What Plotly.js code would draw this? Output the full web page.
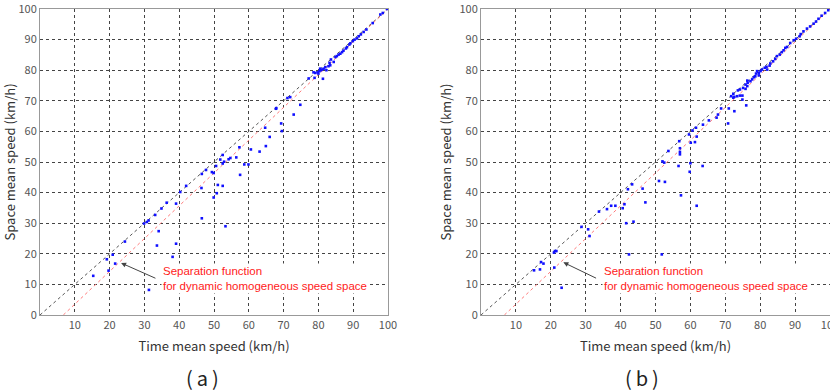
<!DOCTYPE html>
<html>
<head>
<meta charset="utf-8">
<script src="https://cdn.plot.ly/plotly-3.0.1.min.js"></script>
<style>html,body{margin:0;padding:0;background:#fff;}#chart{width:830px;height:392px;}</style>
</head>
<body>
<div id="chart"></div>
<script>
// ---- data ----
const tickVals = [10, 20, 30, 40, 50, 60, 70, 80, 90, 100];
const yTickVals = [0, 10, 20, 30, 40, 50, 60, 70, 80, 90, 100];
const diagX = [0, 100];
const diagY = [0, 100];
const sepX = [6.7, 100];
const sepY = [0, 100];

const aTime = [99.7,98.5,97.8,95.6,93.8,93,92.2,91.6,91.1,90.4,89.9,89.2,88.9,88.2,87.9,87.2,86.8,86.3,85.8,85.3,
  84.9,83.6,83.2,84.4,83.4,82.9,82,81.5,81,80.5,80.3,79.8,79.1,78.6,80,80.7,82.3,81.3,78.9,77.2,
  71.9,71.1,67.9,67.8,74.8,72.9,69.3,69.5,64.7,66,64.9,63.1,60.6,59.9,58.7,57.3,57.5,56.4,54.7,54.2,
  52.9,52.5,52.5,51.8,50.6,49.4,49.9,46.5,46.4,47.7,51.1,52.5,49.9,50.8,
  40.3,42,39.1,36.4,34.9,33.1,31.2,30.7,29.9,34.1,33.6,39.1,38.1,31.3,24.4,21.6,20.9,19.2,19.7,15.3,46.5,53.3];
const aSpace = [100,98.7,98.2,95.4,93.3,92.5,91.7,91.1,90.4,90,89.5,88.8,88.4,87.5,87.1,86.4,85.9,85.4,85.1,84.6,
  84.3,83.5,82.4,82.7,81.6,81.3,81,80.5,80.2,80.5,79.7,79.3,79.1,79.3,78.9,80,80,77.2,77.5,77.3,
  71.2,70.9,67.6,67.4,68.7,65.5,62.6,60.1,61.2,58.2,55.2,53.4,54.1,49.2,49.2,54.8,45.8,51.5,51.3,50.9,
  50.1,52.3,49.5,50.8,48.7,46.7,46.4,46.1,41.5,47.4,42.5,42.2,38.4,39.8,
  40.2,42.2,36.4,36.7,34.8,32.7,30.9,30.4,29.9,27.4,22.7,23.3,19,8.2,24,16.8,19.7,18.2,14.5,12.8,31.6,29];

const bTime = [99.5,98.6,97.6,96.7,96,95.3,94.3,93.4,92.4,91.6,91.3,90.3,89.6,88.6,87.7,87.2,86.7,86.2,85.6,84.8,
  84.3,83.7,82.9,82.7,81.8,81.3,82,80.5,80.1,79.6,79.1,78.8,79.6,78.6,78.2,77.7,77.2,76.3,76.4,75.8,
  76.3,75.1,74.2,73.6,75.8,72.3,71.7,72.6,73.4,74.2,74.9,72.3,74.9,76,72.6,70.8,71,68.8,67.9,67.5,
  65.3,63.6,61.6,60.6,59.6,61.8,61.3,60.1,56.8,57,57,57,53.7,52.5,52,56.6,60,59.8,63.5,51,
  52.7,57.3,46.3,43.3,42.1,
  41.1,40.6,38.5,37.3,36.1,33.8,47.1,61.8,41.6,43.7,30.7,31.1,28.8,21.2,21.6,20.9,42.4,51.8,21,17.9,
  17.2,16.9,15.2,23.1];
const bSpace = [99.6,98.7,97.8,96.8,95.9,95.2,94.3,93.6,92.7,91.8,91.1,90.3,89.8,88.9,87.6,87.3,86.5,85.9,85.1,84.6,
  83.7,82.9,82.2,81.5,81.1,80.8,80.2,80.2,79.7,79.1,79.7,78.9,78.3,78,77.7,77,76.4,76.6,75.9,75.3,
  74.8,74.2,73.7,73.4,73.9,72.3,71.5,71.3,71.5,71.7,71.7,71,70.4,68.5,66.6,62.6,67.5,67.5,65.5,64.5,
  63.6,62.2,61.2,60.3,59,58.3,56.5,56.3,56.8,54.5,53.3,52.5,53.6,49.8,50.2,48.7,49.6,46.8,48.7,43.8,
  43.5,39.1,41.3,42.7,41.1,
  36.2,34.9,35.7,35.7,34.6,33.8,36.8,35.7,30,30.5,28,25.8,28.8,20.9,20.9,20.4,19.8,19.8,15.5,16.8,
  17.3,14.9,14.6,8.9];

const annText = "Separation function<br>for dynamic homogeneous speed space";
const xTitle = "Time mean speed (km/h)";
const yTitle = "Space mean speed (km/h)";
const panelLabels = ["(\u2009a\u2009)", "(\u2009b\u2009)"];

// ---- styles ----
const FONT = "'Noto Sans CJK KR', 'Noto Sans', sans-serif";
const ANNFONT = "'Liberation Sans', Arial, sans-serif";
const diagLine = {color: '#555', width: 1, dash: 'dot'};
const sepLine = {color: '#ff7a7a', width: 1, dash: 'dot'};
const mk = {symbol: 'square', size: 2.6, color: '#1010ff', line: {width: 0}};

function lineTrace(x, y, line, xa, ya) {
  return {x: x, y: y, mode: 'lines', line: line, xaxis: xa, yaxis: ya, hoverinfo: 'skip', showlegend: false};
}
function ptTrace(x, y, xa, ya) {
  return {x: x, y: y, mode: 'markers', marker: mk, xaxis: xa, yaxis: ya, showlegend: false};
}

const data = [
  lineTrace(diagX, diagY, diagLine, 'x', 'y'),
  lineTrace(sepX, sepY, sepLine, 'x', 'y'),
  ptTrace(aTime, aSpace, 'x', 'y'),
  lineTrace(diagX, diagY, diagLine, 'x2', 'y2'),
  lineTrace(sepX, sepY, sepLine, 'x2', 'y2'),
  ptTrace(bTime, bSpace, 'x2', 'y2')
];

function xax(domain, anchor) {
  return {
    domain: domain, anchor: anchor, range: [0, 100], tickvals: tickVals,
    showgrid: true, gridcolor: '#444', griddash: 'dot', gridwidth: 1,
    showline: true, linecolor: '#999', linewidth: 1, mirror: true, zeroline: false,
    ticks: '', ticklabeloverflow: 'allow', tickfont: {family: FONT, size: 11, color: '#555'},
    title: {text: xTitle, font: {family: FONT, size: 13, color: '#333'}, standoff: 10},
    automargin: false, fixedrange: true
  };
}
function yax(anchor) {
  return {
    domain: [0, 1], anchor: anchor, range: [0, 100], tickvals: yTickVals,
    showgrid: true, gridcolor: '#444', griddash: 'dot', gridwidth: 1,
    showline: true, linecolor: '#999', linewidth: 1, mirror: true, zeroline: false,
    ticks: '', ticklabeloverflow: 'allow', tickfont: {family: FONT, size: 11, color: '#555'},
    title: {text: yTitle, font: {family: FONT, size: 13, color: '#333'}, standoff: 4},
    automargin: false, fixedrange: true
  };
}

function arrowAnn(xref, yref, hx, hy, tx, ty) {
  return {xref: xref, yref: yref, axref: xref, ayref: yref, x: hx, y: hy, ax: tx, ay: ty,
    text: '', showarrow: true, arrowhead: 2, arrowsize: 1, arrowwidth: 1, arrowcolor: '#444'};
}
function textAnn(xref, yref, x, y) {
  return {xref: xref, yref: yref, x: x, y: y, text: annText, showarrow: false,
    xanchor: 'left', yanchor: 'middle', align: 'left', bgcolor: '#fff', borderpad: 1,
    font: {family: ANNFONT, size: 11.5, color: '#ff1a1a'}};
}
function panelAnn(xPix, label) {
  return {xref: 'paper', yref: 'paper', x: xPix / 830, y: (315 - 377) / 306, yanchor: 'middle', xanchor: 'center',
    text: label, showarrow: false, borderpad: 0, font: {family: FONT, size: 20, color: '#222'}};
}

const layout = {
  width: 830, height: 392,
  margin: {l: 0, r: 0, t: 9, b: 77},
  paper_bgcolor: '#fff', plot_bgcolor: '#fff',
  font: {family: FONT},
  xaxis: xax([40 / 830, 388 / 830], 'y'),
  yaxis: yax('x'),
  xaxis2: xax([481 / 830, 1], 'y2'),
  yaxis2: yax('x2'),
  annotations: [
    textAnn('x', 'y', 34.8, 11.8),
    arrowAnn('x', 'y', 23.3, 17, 33.6, 11.8),
    textAnn('x2', 'y2', 34.8, 11.8),
    arrowAnn('x2', 'y2', 23.6, 17.2, 33.4, 11.8),
    panelAnn(202, panelLabels[0]),
    panelAnn(642, panelLabels[1])
  ]
};

Plotly.newPlot('chart', data, layout, {displayModeBar: false, staticPlot: true});
</script>
</body>
</html>
